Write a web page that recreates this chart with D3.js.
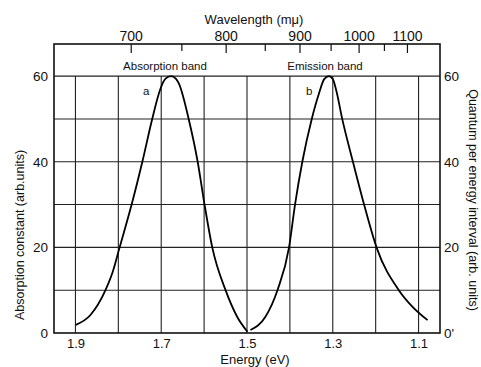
<!DOCTYPE html>
<html>
<head>
<meta charset="utf-8">
<script src="https://cdn.jsdelivr.net/npm/d3@7"></script>
<style>
  body { margin: 0; background: #fff; }
  svg text { font-family: "Liberation Sans", Arial, sans-serif; fill: #111; }
</style>
</head>
<body>
<div id="chart"></div>
<script>
// absorption band (a), energy in eV, value in arb. units
var energyA = [1.899, 1.865, 1.830, 1.814, 1.797, 1.769, 1.744, 1.721, 1.702, 1.690, 1.677, 1.666, 1.659, 1.636, 1.615, 1.599, 1.581, 1.550, 1.523, 1.499];
var absorption = [1.9, 4.2, 10, 14, 20, 30, 40, 50, 57, 59.4, 60, 59.4, 58.3, 50, 40, 30, 20, 10, 3.8, 0.3];

// emission band (b)
var energyB = [1.492, 1.457, 1.429, 1.402, 1.388, 1.371, 1.349, 1.332, 1.320, 1.309, 1.300, 1.292, 1.278, 1.253, 1.227, 1.198, 1.146, 1.114, 1.079];
var emission = [0.7, 3.8, 10, 20, 30, 40, 50, 56, 59.3, 60, 59.3, 56.7, 50, 40, 30, 20, 10, 6.1, 3];

var energyTicks = [1.9, 1.7, 1.5, 1.3, 1.1];
var energyGrid = [1.9, 1.8, 1.7, 1.6, 1.5, 1.4, 1.3, 1.2, 1.1];
var valueTicks = [0, 20, 40, 60];
var valueGrid = [10, 20, 30, 40, 50, 60];
var wavelengthTicks = [700, 750, 800, 850, 900, 950, 1000, 1050, 1100];
var wavelengthLabels = [700, 800, 900, 1000, 1100];

var W = 481, H = 367;
var pLeft = 54, pRight = 440, pTop = 44, pBottom = 333;

var svg = d3.select("#chart").append("svg")
    .attr("width", W)
    .attr("height", H);

var x = d3.scaleLinear().domain([1.95, 1.05]).range([pLeft, pRight]);
var y = d3.scaleLinear().domain([0, 67.5]).range([pBottom, pTop]);

// grid
svg.append("g").selectAll("line")
    .data(energyGrid)
  .enter().append("line")
    .attr("x1", d => x(d)).attr("x2", d => x(d))
    .attr("y1", y(0)).attr("y2", y(60))
    .style("stroke", "#222").style("stroke-width", 1.1);

svg.append("g").selectAll("line")
    .data(valueGrid)
  .enter().append("line")
    .attr("x1", pLeft).attr("x2", pRight)
    .attr("y1", d => y(d)).attr("y2", d => y(d))
    .style("stroke", "#222").style("stroke-width", 1.1);

// frame
svg.append("rect")
    .attr("x", pLeft).attr("y", pTop)
    .attr("width", pRight - pLeft).attr("height", pBottom - pTop)
    .style("fill", "none").style("stroke", "#111").style("stroke-width", 1.6);

// bottom axis (energy)
var xAxis = svg.append("g")
    .attr("transform", "translate(0," + pBottom + ")")
    .call(d3.axisBottom(x).tickValues(energyTicks).tickSize(0).tickPadding(6)
      .tickFormat(d3.format(".1f")));
xAxis.select(".domain").remove();
xAxis.selectAll("text").style("font-size", "13px");

// top axis (wavelength in mμ, E = 1240/λ)
var topAxis = svg.append("g")
    .attr("transform", "translate(0," + pTop + ")")
    .call(d3.axisTop(x)
      .tickValues(wavelengthTicks.map(w => 1239.8 / w))
      .tickSize(0).tickPadding(3)
      .tickFormat(e => {
        var w = Math.round(1239.8 / e);
        return wavelengthLabels.indexOf(w) >= 0 ? w : "";
      }));
topAxis.select(".domain").remove();
topAxis.selectAll("text").style("font-size", "14px");
topAxis.selectAll("line")
    .attr("y2", (d, i) => wavelengthTicks[i] % 100 === 0 ? 9 : 7)
    .style("stroke", "#111").style("stroke-width", 1.2);

// left axis
var yAxis = svg.append("g")
    .attr("transform", "translate(" + pLeft + ",0)")
    .call(d3.axisLeft(y).tickValues(valueTicks).tickSize(0).tickPadding(6));
yAxis.select(".domain").remove();
yAxis.selectAll("text").style("font-size", "13.5px");

// right axis
var yAxisR = svg.append("g")
    .attr("transform", "translate(" + pRight + ",0)")
    .call(d3.axisRight(y).tickValues(valueTicks).tickSize(0).tickPadding(4)
      .tickFormat(d => d === 0 ? "0'" : d));
yAxisR.select(".domain").remove();
yAxisR.selectAll("text").style("font-size", "13.5px");

// curves
var line = d3.line()
    .x(d => x(d[0]))
    .y(d => y(d[1]))
    .curve(d3.curveMonotoneX);

svg.append("path")
    .datum(d3.zip(energyA, absorption))
    .attr("d", line)
    .style("fill", "none").style("stroke", "#000").style("stroke-width", 1.8);

svg.append("path")
    .datum(d3.zip(energyB, emission))
    .attr("d", line)
    .style("fill", "none").style("stroke", "#000").style("stroke-width", 1.8);

// titles
svg.append("text")
    .attr("x", 254).attr("y", 24)
    .attr("text-anchor", "middle")
    .style("font-size", "13px")
    .text("Wavelength  (mμ)");

svg.append("text")
    .attr("x", 255).attr("y", 364)
    .attr("text-anchor", "middle")
    .style("font-size", "13px")
    .text("Energy  (eV)");

svg.append("text")
    .attr("transform", "translate(24,235) rotate(-90)")
    .attr("text-anchor", "middle")
    .style("font-size", "12.5px")
    .text("Absorption constant  (arb.units)");

svg.append("text")
    .attr("transform", "translate(469,200) rotate(90)")
    .attr("text-anchor", "middle")
    .style("font-size", "12.5px")
    .text("Quantum per energy interval  (arb. units)");

// band labels
svg.append("text")
    .attr("x", 165).attr("y", 70)
    .attr("text-anchor", "middle")
    .style("font-size", "11.5px")
    .text("Absorption band");

svg.append("text")
    .attr("x", 325).attr("y", 70)
    .attr("text-anchor", "middle")
    .style("font-size", "11.5px")
    .text("Emission band");

svg.append("text")
    .attr("x", x(1.735)).attr("y", y(55.5))
    .attr("text-anchor", "middle")
    .style("font-size", "11.5px")
    .text("a");

svg.append("text")
    .attr("x", x(1.355)).attr("y", y(55.5))
    .attr("text-anchor", "middle")
    .style("font-size", "11.5px")
    .text("b");
</script>
</body>
</html>
